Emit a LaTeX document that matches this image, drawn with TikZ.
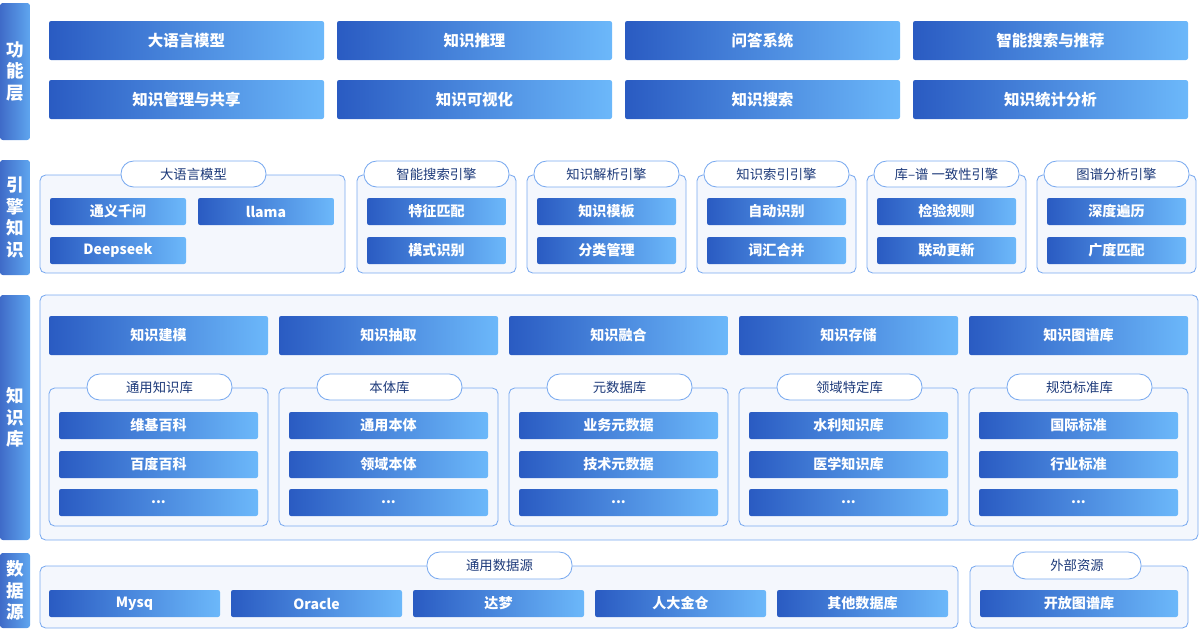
\documentclass[tikz,border=0pt]{standalone}
\usepackage{fontspec}
\setmainfont{Noto Sans CJK SC}
\usetikzlibrary{positioning}
\definecolor{bdark}{HTML}{2A5BC2}
\definecolor{blight}{HTML}{6CB8FA}
\definecolor{pline}{HTML}{7AAAF0}
\definecolor{pfill}{HTML}{F4F7FD}
\definecolor{ptext}{HTML}{1D3A7A}
\tikzset{
  btn/.style={left color=bdark, right color=blight, rounded corners=1.5pt,
    text=white, font=\fontsize{10}{12}\selectfont\bfseries, inner sep=0pt},
  panel/.style={draw=pline, fill=pfill, rounded corners=4pt, line width=0.6pt},
  pill/.style={draw=pline, fill=white, rounded corners=9pt, line width=0.6pt,
    text=ptext, font=\fontsize{9.5}{11}\selectfont, inner sep=0pt},
  sidebar/.style={left color=bdark!90, right color=blight!80!bdark, rounded corners=2pt,
    text=white, font=\fontsize{12.5}{15.5}\selectfont\bfseries, align=center, inner sep=0pt}
}
% box from (x1,y1) to (x2,y2) in px
\newcommand{\bx}[7][btn]{%
  \node[#1, minimum width={((#5)-(#3))*0.025cm}, minimum height={((#6)-(#4))*0.025cm}]
    (#2) at ({((#3)+(#5))/2},{((#4)+(#6))/2}) {#7};}
\begin{document}
\begin{tikzpicture}[x=0.025cm,y=-0.025cm]
\useasboundingbox (0,0) rectangle (1200,634);
% side labels
\bx[sidebar]{sfun}{0}{3}{30}{140}{功\\能\\层}
\bx[sidebar]{seng}{0}{160}{30}{275}{引\\擎\\知\\识}
\bx[sidebar]{skb}{0}{295}{30}{540}{知\\识\\库}
\bx[sidebar]{sdat}{0}{553}{30}{628}{数\\据\\源}
% function layer
\foreach \t [count=\i from 0] in {大语言模型,知识推理,问答系统,智能搜索与推荐}
  \bx{fa\i}{49+288*\i}{21}{324+288*\i}{60}{\fontsize{11}{13}\selectfont\t};
\foreach \t [count=\i from 0] in {知识管理与共享,知识可视化,知识搜索,知识统计分析}
  \bx{fb\i}{49+288*\i}{80}{324+288*\i}{119}{\fontsize{11}{13}\selectfont\t};
% engine layer
\bx[panel]{e0}{40}{175}{345}{273}{}
\bx[pill]{et0}{121}{161}{266}{187}{大语言模型}
\bx{e0a}{50}{198}{186}{225}{通义千问}
\bx{e0b}{198}{198}{334}{225}{llama}
\bx{e0c}{50}{237}{186}{264}{Deepseek}
\foreach \t/\a/\b [count=\i from 0] in {智能搜索引擎/特征匹配/模式识别,知识解析引擎/知识模板/分类管理,
    知识索引引擎/自动识别/词汇合并,库--谱 一致性引擎/检验规则/联动更新,图谱分析引擎/深度遍历/广度匹配}{
  \bx[panel]{ep\i}{357+170*\i}{175}{516+170*\i}{273}{}
  \bx[pill]{ept\i}{364+170*\i}{161}{509+170*\i}{187}{\t}
  \bx{epa\i}{367+170*\i}{198}{506+170*\i}{225}{\a}
  \bx{epb\i}{367+170*\i}{237}{506+170*\i}{264}{\b}
}
% knowledge base
\bx[panel]{kb}{40}{295}{1198}{540}{}
\foreach \t [count=\i from 0] in {知识建模,知识抽取,知识融合,知识存储,知识图谱库}
  \bx{kt\i}{49+230*\i}{316}{268+230*\i}{355}{\t};
\foreach \t/\a/\b [count=\i from 0] in {通用知识库/维基百科/百度百科,本体库/通用本体/领域本体,
    元数据库/业务元数据/技术元数据,领域特定库/水利知识库/医学知识库,规范标准库/国际标准/行业标准}{
  \bx[panel]{kp\i}{49+230*\i}{388}{268+230*\i}{526}{}
  \bx[pill]{kpt\i}{87+230*\i}{374}{232+230*\i}{400}{\t}
  \bx{kpa\i}{59+230*\i}{412}{258+230*\i}{439}{\a}
  \bx{kpb\i}{59+230*\i}{451}{258+230*\i}{478}{\b}
  \bx{kpc\i}{59+230*\i}{489}{258+230*\i}{516}{...}
}
% data sources
\bx[panel]{ds}{40}{566}{958}{628}{}
\bx[pill]{dst}{427}{552}{572}{579}{通用数据源}
\foreach \t [count=\i from 0] in {Mysq,Oracle,达梦,人大金仓,其他数据库}
  \bx{db\i}{49+182*\i}{590}{220+182*\i}{617}{\t};
\bx[panel]{ex}{970}{566}{1188}{628}{}
\bx[pill]{ext}{1013}{552}{1141}{579}{外部资源}
\bx{ex0}{980}{590}{1178}{617}{开放图谱库}
\end{tikzpicture}
\end{document}
